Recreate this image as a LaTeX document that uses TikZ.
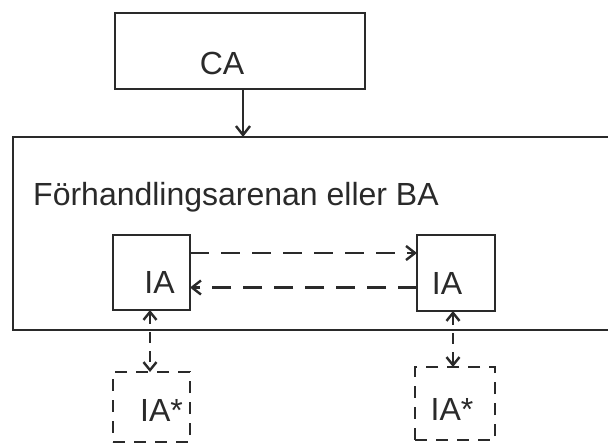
\documentclass[tikz,border=0pt]{standalone}
\usepackage{fontspec}
\setmainfont{Liberation Sans}
\usetikzlibrary{arrows.meta}
\definecolor{ink}{HTML}{2A2A2A}
\begin{document}
\begin{tikzpicture}[x=1pt,y=-1pt,
  box/.style={draw=ink, line width=2.8pt, inner sep=0pt, outer sep=0pt},
  dbox/.style={box, line width=2.6pt, dash pattern=on 12pt off 9pt},
  lbl/.style={font=\fontsize{32}{38}\selectfont, text=ink, inner sep=0pt},
  link/.style={draw=ink, line width=2.6pt},
  hdash/.style={dash pattern=on 19pt off 12pt},
  vdash/.style={dash pattern=on 11pt off 8pt},
  tip/.style={-{Straight Barb[length=9pt,width=14pt,line width=2.4pt]}},
  tips/.style={{Straight Barb[length=8pt,width=13pt,line width=2.4pt]}-{Straight Barb[length=8pt,width=13pt,line width=2.4pt]}},
]
\useasboundingbox[fill=white] (0,0) rectangle (608,447);

% CA box
\node[box, minimum width=250pt, minimum height=76pt,
  label={[lbl,xshift=-18pt,yshift=-12pt]center:CA}] (ca) at (240,51) {};

% big frame (right side runs off the picture)
\coordinate (bTL) at (13,137);
\coordinate (bBL) at (13,330);
\draw[link,line width=2.8pt] (620,137) -- (bTL) -- (bBL) -- (620,330);
\node[lbl] (ba) at (236,197) {Förhandlingsarenan eller BA};

\draw[link,tip] ([xshift=3pt]ca.south) -- ([xshift=3pt]ca.south |- bTL);

% IA boxes
\node[box, minimum width=77pt, minimum height=75pt,
  label={[lbl,xshift=8pt,yshift=-10pt]center:IA}] (ia1) at (151.5,272.5) {};
\node[box, minimum width=78pt, minimum height=76pt,
  label={[lbl,xshift=-9pt,yshift=-10pt]center:IA}] (ia2) at (456,273) {};

% IA* boxes
\node[dbox, minimum width=77pt, minimum height=70pt,
  label={[lbl,xshift=10pt,yshift=-3pt]center:IA*}] (ias1) at (151.5,407) {};
\node[dbox, minimum width=80pt, minimum height=73pt,
  label={[lbl,xshift=-3pt,yshift=-6pt]center:IA*}] (ias2) at (455,403.5) {};

% horizontal dashed arrows
\coordinate (t1) at ([yshift=19.5pt]ia1.east);
\coordinate (t2) at ([yshift=-14.5pt]ia2.west);
\draw[link,hdash,tip] (t1) -- (t1 -| ia2.west);
\draw[link,hdash,tip] (t2) -- (t2 -| ia1.east);

% vertical dashed double arrows
\draw[link,vdash,tips] ([xshift=-1.5pt]ia1.south) -- ([xshift=-1.5pt]ias1.north);
\draw[link,vdash,tips] ([xshift=-3pt]ia2.south) -- ([xshift=-3pt]ia2.south |- ias2.north);
\end{tikzpicture}
\end{document}
